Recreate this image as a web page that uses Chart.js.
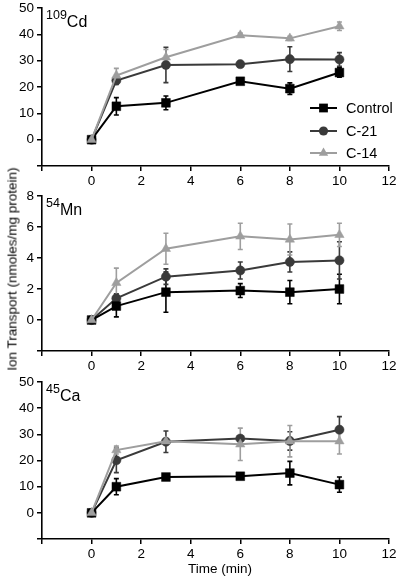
<!DOCTYPE html>
<html>
<head>
<meta charset="utf-8">
<script src="https://cdn.jsdelivr.net/npm/chart.js@4.4.0/dist/chart.umd.min.js"></script>
<style>
  html, body { margin: 0; padding: 0; background: #fff; width: 400px; height: 577px; overflow: hidden; position: relative; font-family: Arial, Helvetica, sans-serif; }
  canvas { position: absolute; left: 0; }
  #yTitle { position: absolute; left: 12px; top: 269px; transform: translate(-50%, -50%) rotate(-90deg); white-space: nowrap; font-size: 13.5px; color: #000; }
  #xTitle { position: absolute; left: 220px; top: 568px; transform: translate(-50%, -50%); white-space: nowrap; font-size: 13.5px; color: #000; }
</style>
</head>
<body>
<canvas id="cdChart" width="400" height="193" style="top:-3px"></canvas>
<canvas id="mnChart" width="400" height="190" style="top:185px"></canvas>
<canvas id="caChart" width="400" height="206" style="top:371px"></canvas>
<div id="yTitle">Ion Transport (nmoles/mg protein)</div>
<div id="xTitle">Time (min)</div>

<script>
// time points (min)
const times = [0, 1, 3, 6, 8, 10];
const xTicks = [-2, 0, 2, 4, 6, 8, 10, 12];

const seriesNames = ["Control", "C-21", "C-14"];
const seriesColors = ["#000000", "#3a3a3a", "#9e9e9e"];
const markerStyles = ["rect", "circle", "triangle"];

// 109Cd
const cdControl = [0, 12.7, 14.0, 22.2, 19.4, 25.5];
const cdControlErr = [0, 3.3, 2.6, 0.8, 2.2, 1.8];
const cdC21 = [0, 22.5, 28.4, 28.7, 30.6, 30.5];
const cdC21Err = [0, 1.5, 6.7, 0.6, 4.7, 2.6];
const cdC14 = [0, 24.4, 31.3, 39.7, 38.5, 43.1];
const cdC14Err = [0, 2.7, 3.0, 0.8, 0.8, 1.6];

// 54Mn
const mnControl = [0, 0.9, 1.8, 1.9, 1.8, 2.0];
const mnControlErr = [0, 0.7, 1.3, 0.45, 0.75, 0.95];
const mnC21 = [0, 1.4, 2.8, 3.2, 3.75, 3.85];
const mnC21Err = [0, 0.3, 0.5, 0.55, 0.65, 1.2];
const mnC14 = [0, 2.4, 4.6, 5.4, 5.2, 5.5];
const mnC14Err = [0, 0.95, 1.0, 0.85, 1.0, 0.75];

// 45Ca
const caControl = [0, 10.0, 13.7, 14.0, 15.2, 10.8];
const caControlErr = [0, 3.1, 0.8, 0.5, 4.5, 2.9];
const caC21 = [0, 20.1, 27.2, 28.4, 27.5, 31.8];
const caC21Err = [0, 4.7, 4.1, 1.0, 3.5, 5.0];
const caC14 = [0, 24.0, 27.4, 26.2, 27.4, 27.4];
const caC14Err = [0, 1.5, 1.0, 6.2, 6.0, 4.9];

const FONT = "Arial, Helvetica, sans-serif";

function drawMarker(ctx, style, x, y, r, color) {
  ctx.fillStyle = color;
  ctx.beginPath();
  if (style === "rect") {
    const s = r * Math.SQRT1_2;
    ctx.rect(x - s, y - s, 2 * s, 2 * s);
  } else if (style === "circle") {
    ctx.arc(x, y, r, 0, Math.PI * 2);
  } else {
    ctx.moveTo(x, y - r);
    ctx.lineTo(x + r * 0.87, y + r * 0.5);
    ctx.lineTo(x - r * 0.87, y + r * 0.5);
    ctx.closePath();
  }
  ctx.fill();
}

const markerRadius = [6.2, 4.6, 5.4];

// vertical error bars
const errorBars = {
  id: "errorBars",
  beforeDatasetsDraw(chart) {
    const { ctx, scales: { x, y } } = chart;
    chart.data.datasets.forEach(ds => {
      ds.data.forEach((pt, i) => {
        const e = ds.errors[i];
        if (!e) return;
        const px = x.getPixelForValue(pt.x);
        const top = y.getPixelForValue(pt.y + e);
        const bot = y.getPixelForValue(pt.y - e);
        ctx.save();
        ctx.strokeStyle = ds.borderColor;
        ctx.lineWidth = 1.6;
        ctx.beginPath();
        ctx.moveTo(px, top); ctx.lineTo(px, bot);
        ctx.moveTo(px - 2.5, top); ctx.lineTo(px + 2.5, top);
        ctx.moveTo(px - 2.5, bot); ctx.lineTo(px + 2.5, bot);
        ctx.stroke();
        ctx.restore();
      });
    });
  }
};

// isotope label + legend
const panelDecor = {
  id: "panelDecor",
  afterDraw(chart, args, opts) {
    const { ctx, chartArea } = chart;
    ctx.save();
    ctx.fillStyle = "#000";
    ctx.textBaseline = "alphabetic";
    ctx.textAlign = "left";
    ctx.font = "12.5px " + FONT;
    const supW = ctx.measureText(opts.mass).width;
    ctx.fillText(opts.mass, chartArea.left + 4, chartArea.top + 11);
    ctx.font = "16px " + FONT;
    ctx.fillText(opts.element, chartArea.left + 4 + supW, chartArea.top + 19);

    if (opts.legend) {
      ctx.font = "14.5px " + FONT;
      ctx.textBaseline = "middle";
      const rows = [111, 134, 156];
      seriesNames.forEach((name, i) => {
        const yy = rows[i];
        ctx.strokeStyle = seriesColors[i];
        ctx.lineWidth = 2;
        ctx.beginPath();
        ctx.moveTo(310, yy); ctx.lineTo(337, yy);
        ctx.stroke();
        drawMarker(ctx, markerStyles[i], 323.5, yy, markerRadius[i], seriesColors[i]);
        ctx.fillStyle = "#000";
        ctx.fillText(name, 346, yy + 1);
      });
    }
    ctx.restore();
  }
};

function makePanel(canvasId, opts) {
  const series = [opts.control, opts.c21, opts.c14];
  const errs = [opts.controlErr, opts.c21Err, opts.c14Err];
  const datasets = series.map((vals, s) => ({
    label: seriesNames[s],
    data: times.map((t, i) => ({ x: t, y: vals[i] })),
    errors: errs[s],
    borderColor: seriesColors[s],
    backgroundColor: seriesColors[s],
    pointBackgroundColor: seriesColors[s],
    pointBorderColor: seriesColors[s],
    pointStyle: markerStyles[s],
    pointRadius: markerRadius[s],
    pointBorderWidth: 0.5,
    borderWidth: 2,
    tension: 0,
    clip: false,
    order: s === 2 ? 0 : s + 1
  }));

  const tickFont = { family: FONT, size: 13.5 };

  return new Chart(document.getElementById(canvasId), {
    type: "line",
    data: { datasets },
    options: {
      responsive: false,
      animation: false,
      layout: { padding: { top: 10, right: 11, left: 0, bottom: 0 } },
      plugins: {
        legend: { display: false },
        tooltip: { enabled: false },
        panelDecor: { mass: opts.mass, element: opts.element, legend: opts.legend }
      },
      scales: {
        x: {
          type: "linear",
          min: -2, max: 12,
          afterBuildTicks: sc => { sc.ticks = xTicks.map(v => ({ value: v })); },
          afterFit: sc => { sc.height = opts.xHeight; },
          ticks: { color: "#000", font: tickFont, padding: 2, maxRotation: 0,
                   callback: v => (v >= 0 ? String(v) : "") },
          grid: { drawOnChartArea: false, drawTicks: true, tickLength: 5, color: "#000", lineWidth: 1.5 },
          border: { display: true, color: "#000", width: 1.6 }
        },
        y: {
          min: opts.yMin, max: opts.yMax,
          ticks: { color: "#000", font: tickFont, padding: 3, stepSize: opts.yStep,
                   callback: v => (v >= 0 && Math.abs(v % opts.yLabelStep) < 1e-6 ? String(v) : "") },
          afterFit: sc => { sc.width = 42; },
          grid: { drawOnChartArea: false, drawTicks: true, tickLength: 5, color: "#000", lineWidth: 1.5 },
          border: { display: true, color: "#000", width: 1.6 }
        }
      }
    },
    plugins: [errorBars, panelDecor]
  });
}

makePanel("cdChart", {
  mass: "109", element: "Cd", legend: true,
  yMin: -10, yMax: 50, yStep: 5, yLabelStep: 10, xHeight: 24,
  control: cdControl, controlErr: cdControlErr,
  c21: cdC21, c21Err: cdC21Err,
  c14: cdC14, c14Err: cdC14Err
});

makePanel("mnChart", {
  mass: "54", element: "Mn", legend: false,
  yMin: -2, yMax: 8, yStep: 1, yLabelStep: 2, xHeight: 24,
  control: mnControl, controlErr: mnControlErr,
  c21: mnC21, c21Err: mnC21Err,
  c14: mnC14, c14Err: mnC14Err
});

makePanel("caChart", {
  mass: "45", element: "Ca", legend: false,
  yMin: -10, yMax: 50, yStep: 5, yLabelStep: 10, xHeight: 38,
  control: caControl, controlErr: caControlErr,
  c21: caC21, c21Err: caC21Err,
  c14: caC14, c14Err: caC14Err
});
</script>
</body>
</html>
